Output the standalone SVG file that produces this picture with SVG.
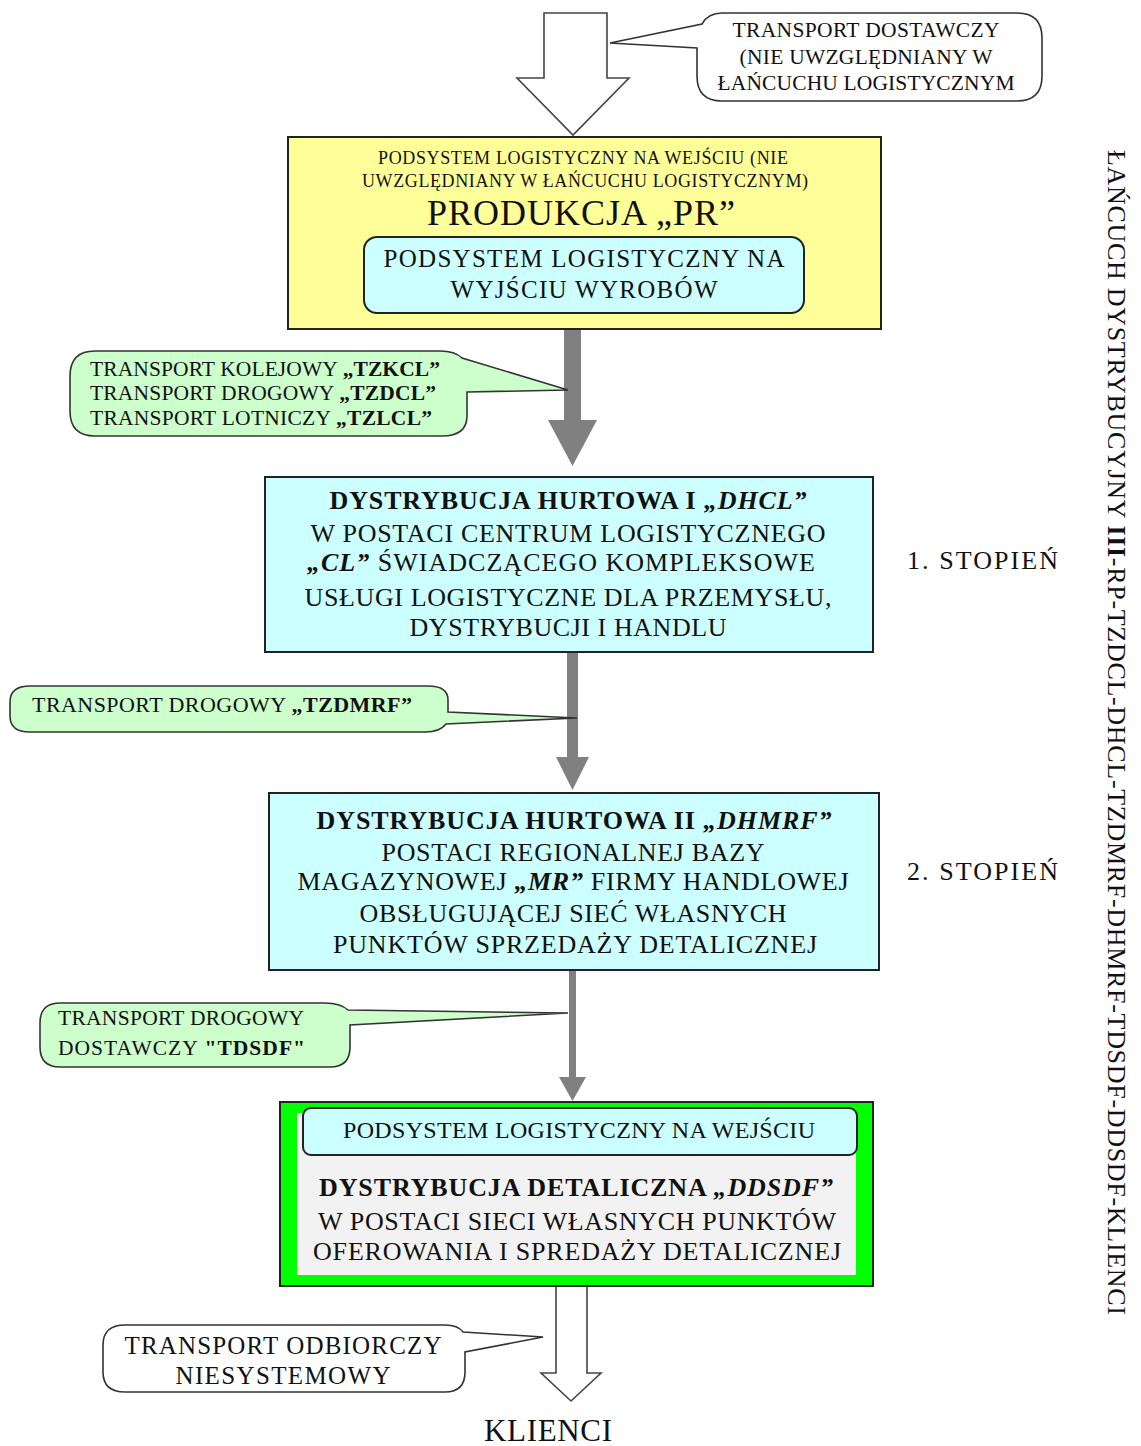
<svg xmlns="http://www.w3.org/2000/svg" width="1141" height="1446" viewBox="0 0 1141 1446">
<style>
text{font-family:"Liberation Serif","Times New Roman",serif;fill:#111;}
.c{text-anchor:middle;}
.s18{font-size:18px;}
.s21{font-size:21.5px;}
.s22{font-size:22px;}
.s24{font-size:24px;}
.s25{font-size:25px;}
.s26{font-size:26px;}
.b{font-weight:bold;}
.bi{font-weight:bold;font-style:italic;}
.box{stroke:#222;stroke-width:2;}
.bub{stroke:#333;stroke-width:1.6;}
.garrow{fill:#808080;stroke:none;}
.harrow{fill:#fff;stroke:#444;stroke-width:1.6;}
</style>
<rect width="1141" height="1446" fill="#fff"/>
<g id="connectors">
  <polygon class="harrow" points="544,13 607,13 607,78 629,78 573,135 517,78 544,78"/>
  <polygon class="garrow" points="564,330 581,330 581,420 597,420 572.5,466 548,420 564,420"/>
  <polygon class="garrow" points="567,652 578,652 578,757 589,757 572.5,790 556,757 567,757"/>
  <polygon class="garrow" points="569,970 576,970 576,1077 586,1077 572.5,1101 559,1077 569,1077"/>
  <polygon class="harrow" points="556,1286 587,1286 587,1373 601,1373 571,1401 541,1373 556,1373"/>
</g>
<g id="callout-dostawczy">
  <path class="bub" fill="#fff" d="M722,13 H1017 Q1042,13 1042,38 V76 Q1042,101 1017,101 H722 Q697,101 697,76 V48 L610,43 L702,24 Q708,13 722,13 Z"/>
  <text class="s21 c" x="866" y="37" textLength="267" lengthAdjust="spacing">TRANSPORT DOSTAWCZY</text>
  <text class="s21 c" x="866" y="64" textLength="253" lengthAdjust="spacing">(NIE UWZGLĘDNIANY W</text>
  <text class="s21 c" x="866" y="90" textLength="297" lengthAdjust="spacing">ŁAŃCUCHU LOGISTYCZNYM</text>
</g>
<g id="node-produkcja">
  <rect class="box" x="288" y="137" width="593" height="192" fill="#FFFF99"/>
  <text class="s18 c" x="583" y="164" textLength="410" lengthAdjust="spacing">PODSYSTEM LOGISTYCZNY NA WEJŚCIU (NIE</text>
  <text class="s18 c" x="585" y="187" textLength="446" lengthAdjust="spacing">UWZGLĘDNIANY W ŁAŃCUCHU LOGISTYCZNYM)</text>
  <text class="c" x="581" y="225" font-size="36" textLength="308" lengthAdjust="spacing">PRODUKCJA „PR”</text>
  <rect class="box" x="364" y="237" width="440" height="76" rx="13" fill="#CCFFFF" stroke-width="1.6"/>
  <text class="s25 c" x="584" y="267" textLength="401" lengthAdjust="spacing">PODSYSTEM LOGISTYCZNY NA</text>
  <text class="s25 c" x="584" y="298" textLength="267" lengthAdjust="spacing">WYJŚCIU WYROBÓW</text>
</g>
<g id="callout-tzcl">
  <path class="bub" fill="#CCFFCC" d="M95,351 H440 Q455,351 462,358 L568,390 L467,392 V416 Q467,436 442,436 H95 Q70,436 70,411 V376 Q70,351 95,351 Z"/>
  <text class="s21" x="90" y="376" textLength="350" lengthAdjust="spacing">TRANSPORT KOLEJOWY <tspan class="b">„TZKCL”</tspan></text>
  <text class="s21" x="90" y="400" textLength="346" lengthAdjust="spacing">TRANSPORT DROGOWY <tspan class="b">„TZDCL”</tspan></text>
  <text class="s21" x="90" y="425" textLength="342" lengthAdjust="spacing">TRANSPORT LOTNICZY <tspan class="b">„TZLCL”</tspan></text>
</g>
<g id="node-dhcl">
  <rect class="box" x="265" y="477" width="608" height="175" fill="#CCFFFF"/>
  <text class="s26 c" x="568" y="509" textLength="477" lengthAdjust="spacing"><tspan class="b">DYSTRYBUCJA HURTOWA I </tspan><tspan class="bi">„DHCL”</tspan></text>
  <text class="s26 c" x="568" y="542" textLength="515" lengthAdjust="spacing">W POSTACI CENTRUM LOGISTYCZNEGO</text>
  <text class="s26 c" x="561" y="571" textLength="508" lengthAdjust="spacing"><tspan class="bi">„CL”</tspan> ŚWIADCZĄCEGO KOMPLEKSOWE</text>
  <text class="s26 c" x="568" y="606" textLength="527" lengthAdjust="spacing">USŁUGI LOGISTYCZNE DLA PRZEMYSŁU,</text>
  <text class="s26 c" x="568" y="636" textLength="317" lengthAdjust="spacing">DYSTRYBUCJI I HANDLU</text>
</g>
<g id="label-stopien1">
  <text class="s26" x="907" y="569" textLength="151" lengthAdjust="spacing">1. STOPIEŃ</text>
</g>
<g id="callout-tzdmrf">
  <path class="bub" fill="#CCFFCC" d="M30,686 H428 Q448,686 448,700 V712 L577,718 L446,724 Q440,732 425,732 H30 Q10,732 10,716 V702 Q10,686 30,686 Z"/>
  <text class="s22" x="32" y="712" textLength="380" lengthAdjust="spacing">TRANSPORT DROGOWY <tspan class="b">„TZDMRF”</tspan></text>
</g>
<g id="node-dhmrf">
  <rect class="box" x="269" y="793" width="610" height="177" fill="#CCFFFF"/>
  <text class="s26 c" x="574" y="829" textLength="515" lengthAdjust="spacing"><tspan class="b">DYSTRYBUCJA HURTOWA II </tspan><tspan class="bi">„DHMRF”</tspan></text>
  <text class="s26 c" x="573" y="861" textLength="383" lengthAdjust="spacing">POSTACI REGIONALNEJ BAZY</text>
  <text class="s26 c" x="573" y="890" textLength="551" lengthAdjust="spacing">MAGAZYNOWEJ <tspan class="bi">„MR”</tspan> FIRMY HANDLOWEJ</text>
  <text class="s26 c" x="573" y="922" textLength="427" lengthAdjust="spacing">OBSŁUGUJĄCEJ SIEĆ WŁASNYCH</text>
  <text class="s26 c" x="575" y="953" textLength="484" lengthAdjust="spacing">PUNKTÓW SPRZEDAŻY DETALICZNEJ</text>
</g>
<g id="label-stopien2">
  <text class="s26" x="907" y="880" textLength="151" lengthAdjust="spacing">2. STOPIEŃ</text>
</g>
<g id="callout-tdsdf">
  <path class="bub" fill="#CCFFCC" d="M60,1003 H325 Q340,1003 348,1010 L568,1013 L350,1025 V1047 Q350,1067 330,1067 H60 Q40,1067 40,1047 V1023 Q40,1003 60,1003 Z"/>
  <text class="s21" x="58" y="1025" textLength="246" lengthAdjust="spacing">TRANSPORT DROGOWY</text>
  <text class="s21" x="58" y="1055" textLength="247" lengthAdjust="spacing">DOSTAWCZY <tspan class="b">"TDSDF"</tspan></text>
</g>
<g id="node-ddsdf">
  <rect class="box" x="280" y="1102" width="593" height="184" fill="#00FF00"/>
  <rect x="297" y="1113" width="559" height="162" fill="#F2F2F2"/>
  <rect class="box" x="303" y="1108" width="554" height="47" rx="8" fill="#CCFFFF" stroke-width="1.6"/>
  <text class="s24 c" x="579" y="1138" textLength="472" lengthAdjust="spacing">PODSYSTEM LOGISTYCZNY NA WEJŚCIU</text>
  <text class="s26 c" x="576" y="1196" textLength="514" lengthAdjust="spacing"><tspan class="b">DYSTRYBUCJA DETALICZNA </tspan><tspan class="bi">„DDSDF”</tspan></text>
  <text class="s26 c" x="577" y="1230" textLength="518" lengthAdjust="spacing">W POSTACI SIECI WŁASNYCH PUNKTÓW</text>
  <text class="s26 c" x="577" y="1260" textLength="528" lengthAdjust="spacing">OFEROWANIA I SPREDAŻY DETALICZNEJ</text>
</g>
<g id="callout-odbiorczy">
  <path class="bub" fill="#fff" d="M125,1325 H445 Q458,1325 463,1332 L543,1337 L465,1352 V1372 Q465,1392 445,1392 H125 Q103,1392 103,1372 V1345 Q103,1325 125,1325 Z"/>
  <text class="s25 c" x="283" y="1354" textLength="317" lengthAdjust="spacing">TRANSPORT ODBIORCZY</text>
  <text class="s25 c" x="283" y="1384" textLength="215" lengthAdjust="spacing">NIESYSTEMOWY</text>
</g>
<g id="node-klienci">
  <text class="c" x="548" y="1441" font-size="31" textLength="128" lengthAdjust="spacing">KLIENCI</text>
</g>
<g id="label-chain">
  <text class="s26" transform="translate(1108,150) rotate(90)" x="0" y="0" textLength="1165" lengthAdjust="spacing">ŁAŃCUCH DYSTRYBUCYJNY <tspan class="b">III</tspan>-RP-TZDCL-DHCL-TZDMRF-DHMRF-TDSDF-DDSDF-KLIENCI</text>
</g>
</svg>
